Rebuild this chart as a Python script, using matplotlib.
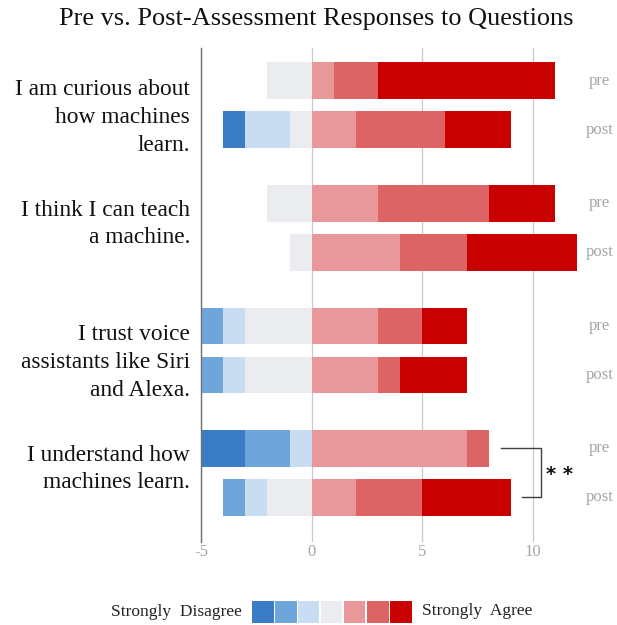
import matplotlib
matplotlib.use("Agg")
import matplotlib.pyplot as plt
from matplotlib.patches import Rectangle

title = "Pre vs. Post-Assessment Responses to Questions"
questions = ["I am curious about\nhow machines\nlearn.",
             "I think I can teach\na machine.",
             "I trust voice\nassistants like Siri\nand Alexa.",
             "I understand how\nmachines learn."]
levels = ["Strongly Disagree", "Disagree", "Slightly Disagree", "Neutral",
          "Slightly Agree", "Agree", "Strongly Agree"]
pre_counts = [[0, 0, 0, 2, 1, 2, 8],
              [0, 0, 0, 2, 3, 5, 3],
              [0, 1, 1, 3, 3, 2, 2],
              [2, 2, 1, 0, 7, 1, 0]]
post_counts = [[1, 0, 2, 1, 2, 4, 3],
               [0, 0, 0, 1, 4, 3, 5],
               [0, 1, 1, 3, 3, 1, 3],
               [0, 1, 1, 2, 2, 3, 4]]
x_ticks = [-5, 0, 5, 10]
significance = {3: "* *"}

colors = ["#3b7dc4", "#6ea6dc", "#c9ddf2", "#eaecef", "#e8979a", "#dc6464", "#c80000"]

plt.rcParams['font.family'] = ['Liberation Serif', 'DejaVu Serif']

fig = plt.figure(figsize=(6.17, 6.25), dpi=100)
ax = fig.add_axes([201/617, 1-541.6/625, (583-201)/617, (541.6-48)/625])

bar_h = 0.75
group_gap = 2.5

def draw_bar(y, counts):
    left = 0
    for i in [3, 2, 1, 0]:
        if counts[i]:
            ax.barh(y, -counts[i], left=left, height=bar_h, color=colors[i], linewidth=0)
        left -= counts[i]
    left = 0
    for i in [4, 5, 6]:
        if counts[i]:
            ax.barh(y, counts[i], left=left, height=bar_h, color=colors[i], linewidth=0)
        left += counts[i]
    return left

ends = []
for g, q in enumerate(questions):
    y_pre = g * group_gap
    y_post = y_pre + 1
    e1 = draw_bar(y_pre, pre_counts[g])
    e2 = draw_bar(y_post, post_counts[g])
    ends.append((e1, e2))
    nlines = q.count("\n") + 1
    off = 0.25 if nlines == 3 else -0.08
    ax.text(-5.5, y_pre + 0.5 + off, q, ha='right', va='center', multialignment='right',
            fontsize=16.8, color='#111111', linespacing=1.42, clip_on=False)
    ax.text(13.0, y_pre, "pre", ha='center', va='center', fontsize=12, color='#a6a6a6', clip_on=False)
    ax.text(13.0, y_post, "post", ha='center', va='center', fontsize=12, color='#a6a6a6', clip_on=False)

for g, mark in significance.items():
    y_pre = g * group_gap
    y_post = y_pre + 1
    e1, e2 = ends[g]
    xv = max(e1, e2) + 1.35
    ax.plot([e1 + 0.55, xv, xv, e2 + 0.5], [y_pre, y_pre, y_post, y_post],
            color='#404040', lw=1.0, clip_on=False)
    ax.text(xv + 0.25, (y_pre + y_post) / 2 + 0.15, mark, ha='left', va='baseline',
            fontsize=14, fontweight='bold', family='DejaVu Sans', color='#111111', clip_on=False)

ax.set_xlim(-5, 12.25)
ax.set_ylim(9.4, -0.67)
ax.set_xticks(x_ticks)
ax.set_xticklabels([str(t) for t in x_ticks], fontsize=12, color='#a6a6a6')
ax.set_yticks([])
ax.grid(axis='x', color='#c8c8c8', lw=0.9)
ax.set_axisbelow(True)
for s in ['top', 'right', 'bottom']:
    ax.spines[s].set_visible(False)
ax.spines['left'].set_color('#707070')
ax.spines['left'].set_linewidth(1.0)
ax.tick_params(axis='x', length=0, pad=2)

fig.text(316/617, 1-19/625, title, ha='center', va='center', fontsize=18.9, color='#111111')

# legend
box_w = 21.5 / 617
box_h = 22 / 625
x0 = 252 / 617
yb = 1 - 623 / 625
for i, c in enumerate(colors):
    fig.patches.append(Rectangle((x0 + i * 23 / 617, yb), box_w, box_h, transform=fig.transFigure,
                                 facecolor=c, edgecolor='none'))
fig.text(242/617, yb + box_h/2, "Strongly  Disagree", ha='right', va='center', fontsize=12.5, color='#222222')
fig.text(422/617, yb + box_h/2 + 1/625, "Strongly  Agree", ha='left', va='center', fontsize=12.5, color='#222222')

fig.savefig("out.png", dpi=100)
